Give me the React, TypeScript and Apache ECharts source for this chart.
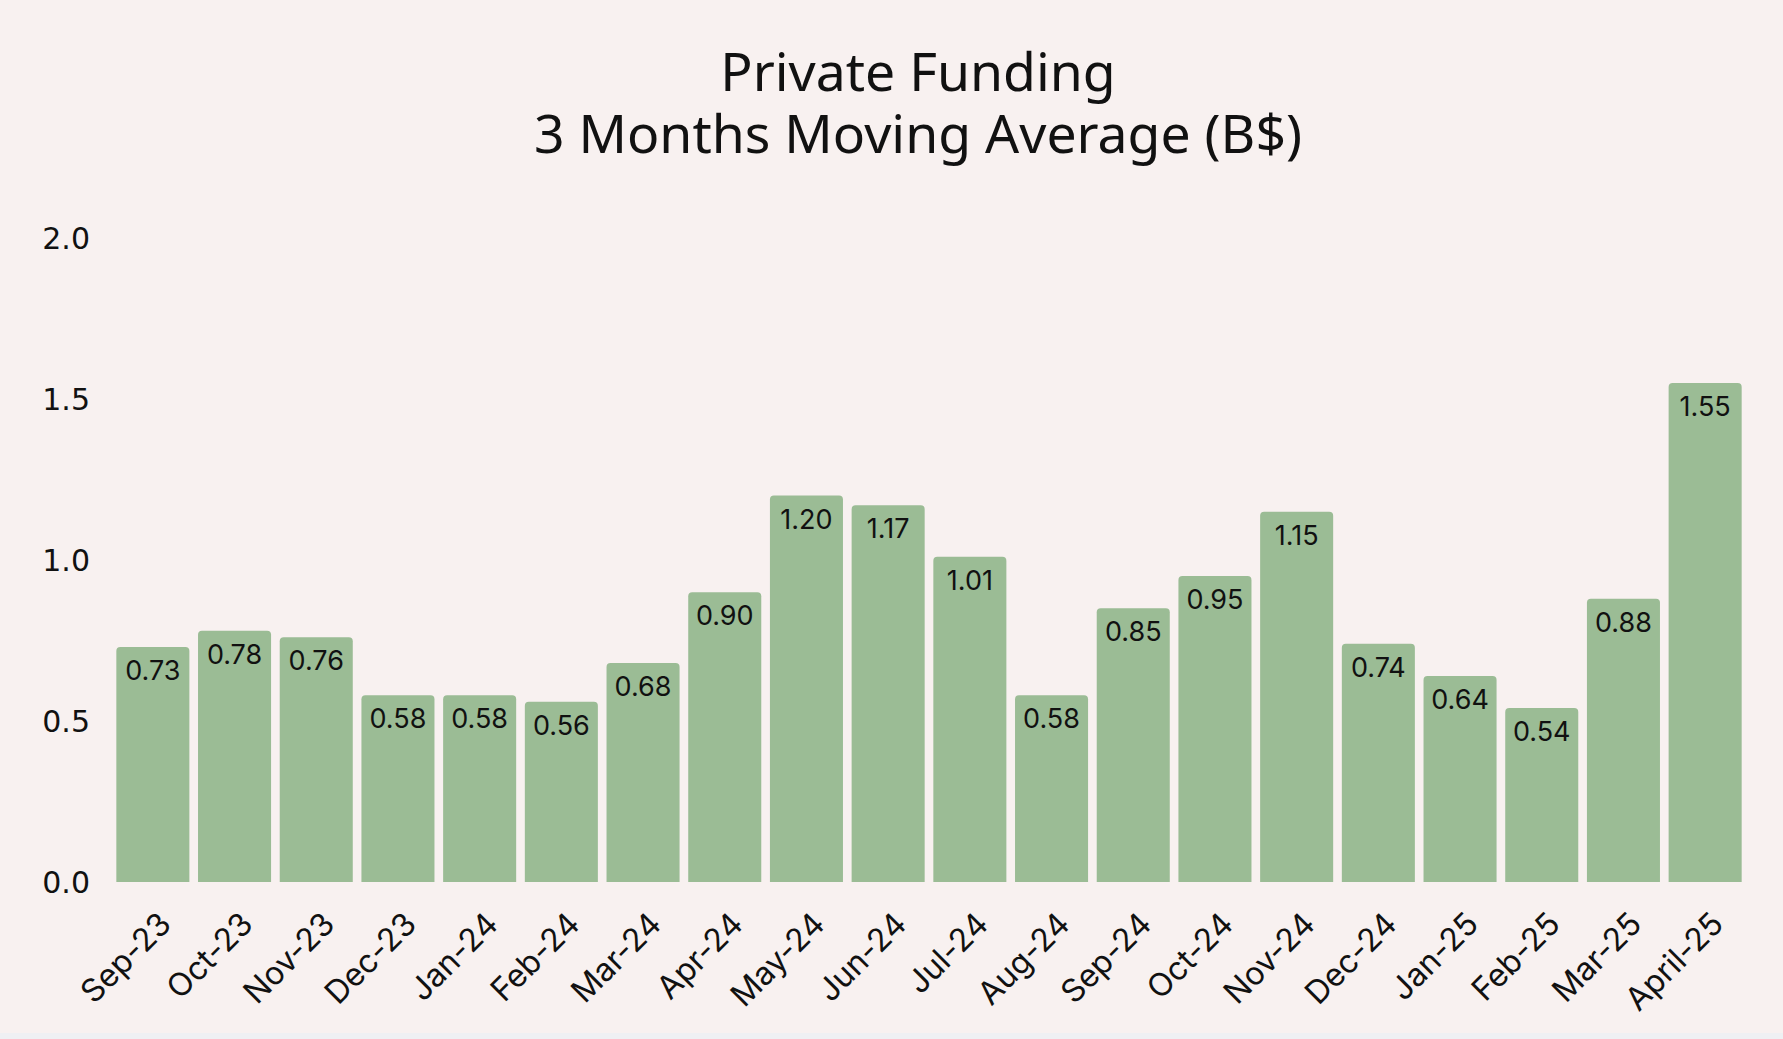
import React, { useEffect, useRef } from "react";
import * as echarts from "echarts";

const categories = [
  "Sep-23", "Oct-23", "Nov-23", "Dec-23", "Jan-24", "Feb-24", "Mar-24", "Apr-24",
  "May-24", "Jun-24", "Jul-24", "Aug-24", "Sep-24", "Oct-24", "Nov-24", "Dec-24",
  "Jan-25", "Feb-25", "Mar-25", "April-25",
];
const values = [
  0.73, 0.78, 0.76, 0.58, 0.58, 0.56, 0.68, 0.9, 1.2, 1.17, 1.01, 0.58, 0.85, 0.95,
  1.15, 0.74, 0.64, 0.54, 0.88, 1.55,
];
const titleLines = ["Private Funding", "3 Months Moving Average (B$)"];

export default function App() {
  const ref = useRef<HTMLDivElement>(null);
  useEffect(() => {
    if (!ref.current) return;
    const chart = echarts.init(ref.current, null, { renderer: "svg" });
    chart.setOption({
      animation: false,
      backgroundColor: "#F8F1F0",
      graphic: [
        {
          type: "rect",
          shape: { x: 0, y: 1033, width: 1783, height: 6 },
          style: { fill: "#EFF0F3" },
          silent: true,
        },
        {
          type: "text",
          x: 918,
          y: 101,
          style: {
            text: titleLines.join("\n"),
            fontFamily: "Noto Sans",
            fontSize: 53.5,
            lineHeight: 62,
            fill: "#111111",
            textAlign: "center",
            textVerticalAlign: "middle",
          },
        },
      ],
      grid: { left: 112, right: 37, top: 238, bottom: 157, containLabel: false },
      xAxis: {
        type: "category",
        data: categories,
        axisLine: { show: false },
        axisTick: { show: false },
        axisLabel: {
          rotate: 45,
          interval: 0,
          margin: 48,
          padding: [0, -17, 0, 0],
          fontFamily: "Inter",
          fontSize: 32,
          color: "#111111",
        },
      },
      yAxis: {
        type: "value",
        min: 0,
        max: 2,
        interval: 0.5,
        splitLine: { show: false },
        axisLine: { show: false },
        axisTick: { show: false },
        axisLabel: {
          margin: 22,
          fontFamily: "DejaVu Sans",
          fontSize: 30,
          color: "#111111",
          formatter: (v: number) => v.toFixed(1),
        },
      },
      series: [
        {
          type: "bar",
          data: values,
          barCategoryGap: "10.6%",
          itemStyle: { color: "#9BBC95", borderRadius: [4, 4, 0, 0] },
          label: {
            show: true,
            position: "insideTop",
            distance: 10,
            fontFamily: "Inter",
            fontSize: 27,
            color: "#111111",
            formatter: (p: any) => Number(p.value).toFixed(2),
          },
        },
      ],
    });
    return () => chart.dispose();
  }, []);
  return (
    <div
      ref={ref}
      style={{ position: "fixed", left: 0, top: 0, width: 1783, height: 1039 }}
    />
  );
}
